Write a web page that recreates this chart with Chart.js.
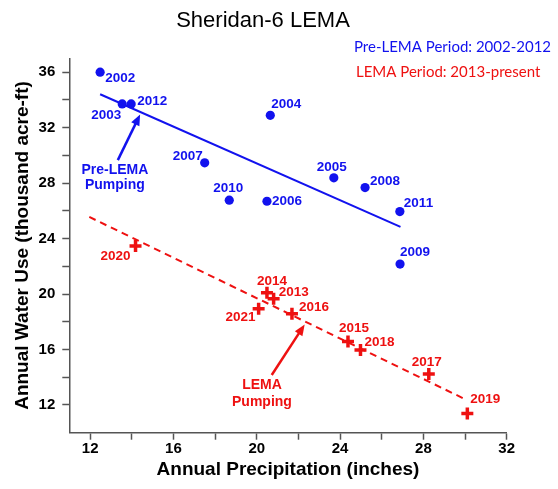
<!DOCTYPE html>
<html><head><meta charset="utf-8">
<script src="https://cdn.jsdelivr.net/npm/chart.js@4.4.1/dist/chart.umd.min.js"></script>
<style>html,body{margin:0;padding:0;background:#fff}</style>
</head><body>
<canvas id="c" width="558" height="489" style="width:558px;height:489px;display:block"></canvas>
<script>
// ---- data ----
const preYears = ['2002','2003','2012','2004','2007','2010','2006','2005','2008','2011','2009'];
const prePrecip = [12.48, 13.54, 13.97, 20.65, 17.50, 18.68, 20.49, 23.70, 25.20, 26.87, 26.88];
const preUse    = [36.0, 33.71, 33.71, 32.89, 29.46, 26.77, 26.69, 28.38, 27.68, 25.95, 22.16];

const lemaYears = ['2020','2014','2013','2021','2016','2015','2018','2017','2019'];
const lemaPrecip = [14.18, 20.49, 20.81, 20.09, 21.69, 24.38, 24.98, 28.26, 30.11];
const lemaUse    = [23.46, 20.09, 19.66, 18.94, 18.57, 16.57, 15.97, 14.24, 11.39];

const preTrendX = [12.48, 26.90];
const preTrendY = [34.41, 24.84];
const lemaTrendX = [11.96, 30.08];
const lemaTrendY = [25.56, 12.36];

const xTickMarks = [12, 14, 16, 18, 20, 22, 24, 26, 28, 30, 32];
const xTickLabels = [12, 16, 20, 24, 28, 32];
const yTickMarks = [12, 14, 16, 18, 20, 22, 24, 26, 28, 30, 32, 34, 36];
const yTickLabels = [12, 16, 20, 24, 28, 32, 36];

// ---- styling / layout (not data) ----
const BLUE = '#1212ee';
const RED = '#ee1111';
const AXIS = '#555555';
// label placement: [align, dx, dy]
const preLabelPos = [['left',5,6],['right',-1,11],['left',6,-3],['left',1,-11],['right',-2,-7],['center',-1,-12],['left',5,0],['center',-2,-11],['left',5,-6],['left',4,-8],['left',0,-12]];
const lemaLabelPos = [['right',-5,10],['center',5,-12],['left',5,-6],['right',-3,9],['left',7,-7],['center',6,-13],['left',4,-8],['center',-2,-12],['left',3,-14]];
// arrows in data units: [x0,y0,x1,y1,color]
const arrows = [[13.33,29.66,14.40,32.95,BLUE],[20.72,14.16,22.30,17.80,RED]];
const notes = [['Pre-LEMA',13.19,28.92,BLUE],['Pumping',13.19,27.82,BLUE],['LEMA',20.25,13.42,RED],['Pumping',20.25,12.22,RED]];

const toPts = (xs, ys) => xs.map((x, i) => ({x, y: ys[i]}));

const overlay = {
  id: 'overlay',
  afterDatasetsDraw(chart) {
    const ctx = chart.ctx;
    const xs = chart.scales.x, ys = chart.scales.y;
    ctx.save();
    ctx.textBaseline = 'middle';
    ctx.font = 'bold 13.5px "Liberation Sans", Arial, sans-serif';
    const drawLabels = (dsIndex, years, pos, color) => {
      const meta = chart.getDatasetMeta(dsIndex);
      ctx.fillStyle = color;
      meta.data.forEach((pt, i) => {
        const [al, dx, dy] = pos[i];
        ctx.textAlign = al;
        ctx.fillText(years[i], pt.x + dx, pt.y + dy);
      });
    };
    drawLabels(2, preYears, preLabelPos, BLUE);
    drawLabels(3, lemaYears, lemaLabelPos, RED);

    // arrows
    arrows.forEach(([x0,y0,x1,y1,c]) => {
      const px0 = xs.getPixelForValue(x0), py0 = ys.getPixelForValue(y0);
      const px1 = xs.getPixelForValue(x1), py1 = ys.getPixelForValue(y1);
      const ang = Math.atan2(py1 - py0, px1 - px0);
      const hl = 11, hw = 4.5;
      ctx.strokeStyle = c; ctx.fillStyle = c; ctx.lineWidth = 2.5;
      ctx.beginPath();
      ctx.moveTo(px0, py0);
      ctx.lineTo(px1 - Math.cos(ang) * hl * 0.8, py1 - Math.sin(ang) * hl * 0.8);
      ctx.stroke();
      ctx.beginPath();
      ctx.moveTo(px1, py1);
      ctx.lineTo(px1 - Math.cos(ang) * hl + Math.sin(ang) * hw, py1 - Math.sin(ang) * hl - Math.cos(ang) * hw);
      ctx.lineTo(px1 - Math.cos(ang) * hl - Math.sin(ang) * hw, py1 - Math.sin(ang) * hl + Math.cos(ang) * hw);
      ctx.closePath();
      ctx.fill();
    });
    ctx.font = 'bold 14px "Liberation Sans", Arial, sans-serif';
    ctx.textAlign = 'center';
    notes.forEach(([t, x, y, c]) => {
      ctx.fillStyle = c;
      ctx.fillText(t, xs.getPixelForValue(x), ys.getPixelForValue(y));
    });

    // title
    ctx.fillStyle = '#000';
    ctx.font = '22px "Liberation Sans", Arial, sans-serif';
    ctx.textAlign = 'center';
    ctx.fillText('Sheridan-6 LEMA', 263, 21);
    // period legend
    ctx.font = '15px Lato, "Open Sans", sans-serif';
    ctx.textAlign = 'left';
    ctx.fillStyle = BLUE;
    ctx.fillText('Pre-LEMA Period: 2002-2012', 354, 47);
    ctx.fillStyle = RED;
    ctx.fillText('LEMA Period: 2013-present', 356, 72);
    ctx.restore();
  }
};

const tickFont = {family: '"Liberation Sans", Arial, sans-serif', size: 15, weight: 'bold'};
const titleFont = {family: '"Liberation Sans", Arial, sans-serif', size: 19, weight: 'bold'};

new Chart(document.getElementById('c'), {
  type: 'scatter',
  data: {
    datasets: [
      {data: toPts(preTrendX, preTrendY), showLine: true, borderColor: BLUE, borderWidth: 2, pointRadius: 0, fill: false},
      {data: toPts(lemaTrendX, lemaTrendY), showLine: true, borderColor: RED, borderWidth: 2, borderDash: [7, 5], pointRadius: 0, fill: false},
      {data: toPts(prePrecip, preUse), pointStyle: 'circle', pointRadius: 4.6, backgroundColor: BLUE, borderColor: BLUE, borderWidth: 0},
      {data: toPts(lemaPrecip, lemaUse), pointStyle: 'cross', pointRadius: 6, borderColor: RED, backgroundColor: RED, borderWidth: 3.5}
    ]
  },
  options: {
    responsive: false,
    animation: false,
    devicePixelRatio: 1,
    layout: {padding: {top: 58.3, right: 51.3, bottom: 0, left: 0}},
    plugins: {legend: {display: false}, tooltip: {enabled: false}, title: {display: false}},
    scales: {
      x: {
        type: 'linear', position: 'bottom', min: 11, max: 32,
        ticks: {autoSkip: false, maxRotation: 0, color: '#000', font: tickFont, padding: 0,
          callback: v => xTickLabels.includes(v) ? String(v) : ''},
        afterBuildTicks: s => { s.ticks = xTickMarks.map(v => ({value: v})); },
        grid: {drawOnChartArea: false, drawTicks: true, tickLength: 7, tickColor: AXIS, tickWidth: 1.5},
        border: {display: true, color: AXIS, width: 1.5},
        title: {display: true, text: 'Annual Precipitation (inches)', color: '#000', font: titleFont, padding: {top: 0, bottom: 8}},
        afterFit: s => { s.height = 56.3; }
      },
      y: {
        type: 'linear', position: 'left', min: 10, max: 37,
        ticks: {autoSkip: false, color: '#000', font: tickFont, padding: 7,
          callback: v => yTickLabels.includes(v) ? String(v) : ''},
        afterBuildTicks: s => { s.ticks = yTickMarks.map(v => ({value: v})); },
        grid: {drawOnChartArea: false, drawTicks: true, tickLength: 7, tickColor: AXIS, tickWidth: 1.5},
        border: {display: true, color: AXIS, width: 1.5},
        title: {display: true, text: 'Annual Water Use (thousand acre-ft)', color: '#000', font: titleFont, padding: {top: 11, bottom: 0}},
        afterFit: s => { s.width = 69.3; }
      }
    }
  },
  plugins: [overlay]
});
</script>
</body></html>
